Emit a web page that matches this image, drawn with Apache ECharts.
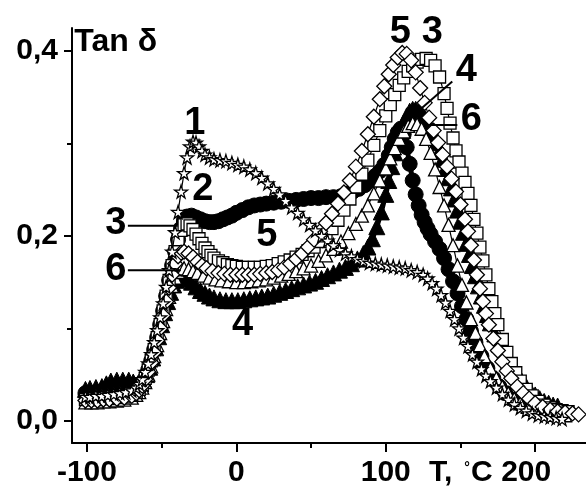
<!DOCTYPE html>
<html>
<head>
<meta charset="utf-8">
<script src="https://cdn.jsdelivr.net/npm/echarts@6/dist/echarts.min.js"></script>
<style>
html,body{margin:0;padding:0;background:#fff}
#chart{width:586px;height:489px}
</style>
</head>
<body>
<div id="chart"></div>
<script>
// Temperature sweeps of tan delta, [T in degC, tan delta]
const curve1 = [[-101,0.026],[-98,0.026],[-94,0.027],[-90,0.027],[-86,0.028],[-82,0.029],[-78,0.03],[-74,0.031],[-70,0.033],[-67,0.036],[-65,0.04],[-63,0.045],[-61,0.053],[-59,0.062],[-57,0.072],[-55,0.085],[-53,0.098],[-51,0.112],[-49,0.127],[-47,0.145],[-45,0.163],[-43,0.183],[-41,0.204],[-39,0.226],[-37,0.248],[-35,0.268],[-33,0.285],[-31,0.297],[-29,0.302],[-27,0.301],[-25,0.297],[-23,0.292],[-21,0.288],[-18,0.285],[-15,0.283],[-11,0.282],[-7,0.281],[-3,0.279],[1,0.277],[5,0.275],[9,0.272],[13,0.268],[17,0.263],[21,0.257],[25,0.251],[29,0.245],[33,0.238],[37,0.231],[41,0.225],[45,0.218],[49,0.212],[53,0.206],[57,0.2],[61,0.195],[65,0.19],[69,0.185],[73,0.181],[77,0.178],[81,0.175],[85,0.173],[89,0.171],[93,0.17],[97,0.169],[101,0.168],[105,0.167],[109,0.166],[113,0.165],[117,0.163],[121,0.161],[125,0.158],[128,0.154],[131,0.149],[134,0.143],[137,0.136],[140,0.128],[143,0.119],[146,0.11],[149,0.1],[152,0.09],[155,0.081],[158,0.072],[161,0.064],[164,0.056],[167,0.049],[170,0.043],[174,0.036],[178,0.029],[182,0.023],[186,0.018],[190,0.014],[194,0.011],[198,0.008],[202,0.006],[206,0.005],[210,0.004],[214,0.003],[218,0.002]];

const curve2 = [[-101,0.03],[-97,0.03],[-93,0.03],[-89,0.031],[-85,0.032],[-80,0.033],[-75,0.034],[-70,0.034],[-67,0.035],[-65,0.036],[-63,0.04],[-61,0.046],[-59,0.055],[-57,0.065],[-55,0.077],[-53,0.09],[-51,0.104],[-49,0.119],[-47,0.135],[-45,0.152],[-43,0.168],[-41,0.183],[-39,0.196],[-37,0.208],[-35,0.217],[-33,0.221],[-30,0.222],[-27,0.22],[-24,0.218],[-21,0.216],[-18,0.215],[-15,0.215],[-12,0.216],[-9,0.218],[-6,0.22],[-3,0.222],[0,0.225],[4,0.228],[8,0.231],[12,0.233],[16,0.234],[20,0.235],[25,0.236],[30,0.237],[35,0.238],[40,0.239],[45,0.24],[50,0.241],[55,0.241],[60,0.242],[65,0.242],[70,0.243],[74,0.245],[78,0.248],[82,0.251],[86,0.255],[90,0.26],[93,0.265],[96,0.27],[99,0.277],[102,0.287],[104,0.296],[106,0.305],[108,0.312],[110,0.316],[112,0.31],[114,0.296],[116,0.278],[118,0.26],[120,0.245],[122,0.233],[124,0.223],[126,0.215],[128,0.208],[130,0.202],[133,0.194],[136,0.186],[139,0.176],[142,0.164],[145,0.151],[148,0.138],[151,0.124],[154,0.11],[157,0.097],[160,0.085],[164,0.07],[168,0.057],[172,0.046],[176,0.037],[180,0.03],[185,0.023],[190,0.018],[195,0.014],[200,0.011],[205,0.009],[210,0.008],[215,0.007]];

const curve3 = [[-101,0.023],[-97,0.023],[-93,0.023],[-89,0.024],[-85,0.024],[-80,0.025],[-75,0.026],[-70,0.028],[-67,0.031],[-65,0.034],[-63,0.039],[-61,0.046],[-59,0.055],[-57,0.065],[-55,0.077],[-53,0.09],[-51,0.104],[-49,0.119],[-47,0.135],[-45,0.152],[-43,0.168],[-41,0.183],[-39,0.196],[-37,0.206],[-35,0.212],[-33,0.213],[-31,0.211],[-29,0.207],[-27,0.202],[-25,0.197],[-23,0.192],[-21,0.187],[-19,0.183],[-17,0.179],[-15,0.176],[-12,0.173],[-9,0.171],[-6,0.169],[-3,0.168],[0,0.167],[4,0.166],[8,0.166],[12,0.166],[16,0.166],[20,0.167],[24,0.168],[28,0.17],[32,0.172],[36,0.174],[40,0.177],[44,0.18],[48,0.184],[52,0.188],[56,0.194],[60,0.2],[64,0.208],[68,0.217],[72,0.228],[76,0.24],[80,0.253],[84,0.267],[88,0.282],[92,0.298],[96,0.314],[100,0.33],[103,0.342],[106,0.353],[109,0.363],[112,0.371],[115,0.378],[118,0.384],[121,0.388],[124,0.391],[127,0.392],[130,0.39],[133,0.384],[136,0.372],[139,0.354],[141,0.338],[143,0.322],[145,0.306],[147,0.292],[149,0.28],[151,0.268],[153,0.258],[155,0.246],[157,0.233],[159,0.218],[161,0.203],[163,0.188],[165,0.173],[167,0.158],[169,0.143],[171,0.129],[173,0.116],[175,0.104],[178,0.088],[181,0.074],[184,0.062],[187,0.052],[190,0.043],[194,0.034],[198,0.027],[202,0.021],[206,0.017],[210,0.014],[214,0.012],[218,0.011],[222,0.01]];

const curve4 = [[-101,0.034],[-98,0.035],[-94,0.036],[-90,0.037],[-87,0.04],[-84,0.043],[-80,0.044],[-76,0.044],[-72,0.044],[-69,0.042],[-66,0.04],[-64,0.04],[-62,0.044],[-60,0.05],[-58,0.058],[-56,0.068],[-54,0.079],[-52,0.091],[-50,0.104],[-48,0.117],[-46,0.129],[-44,0.139],[-42,0.147],[-40,0.152],[-38,0.155],[-36,0.156],[-33,0.154],[-30,0.15],[-27,0.145],[-24,0.141],[-21,0.138],[-18,0.135],[-15,0.133],[-11,0.131],[-7,0.13],[-3,0.13],[1,0.13],[5,0.131],[9,0.132],[13,0.133],[17,0.134],[21,0.135],[25,0.137],[29,0.139],[33,0.141],[37,0.143],[41,0.145],[45,0.147],[49,0.149],[53,0.151],[57,0.154],[61,0.157],[65,0.16],[69,0.163],[73,0.166],[77,0.17],[81,0.175],[85,0.181],[88,0.188],[91,0.197],[94,0.21],[97,0.226],[100,0.245],[102,0.26],[104,0.275],[106,0.29],[108,0.303],[110,0.314],[112,0.323],[114,0.33],[116,0.335],[118,0.337],[120,0.337],[122,0.335],[124,0.332],[126,0.328],[128,0.323],[130,0.317],[132,0.31],[134,0.301],[136,0.292],[138,0.283],[140,0.273],[142,0.263],[144,0.252],[146,0.24],[148,0.228],[150,0.216],[152,0.204],[154,0.192],[156,0.18],[158,0.168],[160,0.157],[162,0.146],[164,0.135],[166,0.125],[168,0.115],[170,0.106],[173,0.094],[176,0.083],[179,0.073],[182,0.064],[185,0.056],[188,0.049],[191,0.043],[194,0.037],[197,0.032],[200,0.028],[203,0.024],[206,0.021],[209,0.019],[212,0.017],[215,0.016]];

const curve5 = [[-101,0.022],[-97,0.022],[-93,0.022],[-89,0.023],[-85,0.023],[-80,0.024],[-75,0.025],[-70,0.027],[-67,0.03],[-65,0.033],[-63,0.038],[-61,0.045],[-59,0.053],[-57,0.063],[-55,0.074],[-53,0.087],[-51,0.1],[-49,0.114],[-47,0.129],[-45,0.144],[-43,0.158],[-41,0.17],[-39,0.178],[-37,0.182],[-35,0.183],[-32,0.181],[-29,0.177],[-26,0.172],[-23,0.168],[-20,0.165],[-16,0.162],[-12,0.16],[-8,0.159],[-4,0.158],[0,0.158],[4,0.158],[8,0.158],[12,0.158],[16,0.159],[20,0.16],[24,0.161],[28,0.163],[32,0.166],[36,0.17],[40,0.175],[44,0.181],[48,0.188],[52,0.196],[56,0.205],[60,0.214],[64,0.224],[68,0.235],[72,0.247],[76,0.26],[80,0.275],[84,0.292],[88,0.31],[92,0.329],[96,0.348],[99,0.362],[102,0.375],[105,0.385],[108,0.393],[111,0.398],[114,0.397],[117,0.39],[120,0.377],[123,0.36],[126,0.344],[129,0.328],[132,0.314],[135,0.301],[138,0.288],[141,0.275],[144,0.262],[147,0.248],[150,0.234],[153,0.218],[155,0.205],[157,0.19],[159,0.174],[161,0.158],[163,0.143],[165,0.129],[167,0.116],[169,0.104],[172,0.089],[175,0.076],[178,0.064],[181,0.054],[184,0.046],[188,0.037],[192,0.03],[196,0.024],[200,0.019],[205,0.015],[210,0.012],[215,0.01],[220,0.009],[225,0.008],[229,0.007]];

const curve6 = [[-101,0.02],[-97,0.02],[-93,0.02],[-89,0.021],[-85,0.021],[-80,0.022],[-75,0.023],[-70,0.025],[-67,0.028],[-65,0.031],[-63,0.036],[-61,0.042],[-59,0.05],[-57,0.059],[-55,0.07],[-53,0.082],[-51,0.095],[-49,0.108],[-47,0.121],[-45,0.134],[-43,0.146],[-41,0.155],[-39,0.161],[-37,0.164],[-35,0.165],[-32,0.164],[-29,0.162],[-26,0.16],[-22,0.157],[-18,0.155],[-14,0.153],[-10,0.152],[-5,0.151],[0,0.15],[5,0.15],[10,0.151],[15,0.152],[20,0.153],[25,0.155],[30,0.157],[35,0.159],[40,0.162],[45,0.165],[50,0.168],[55,0.173],[60,0.179],[65,0.186],[70,0.194],[75,0.203],[80,0.213],[84,0.222],[88,0.233],[92,0.246],[96,0.26],[100,0.273],[103,0.284],[106,0.295],[109,0.305],[112,0.313],[115,0.319],[118,0.322],[121,0.321],[124,0.316],[127,0.305],[130,0.29],[133,0.272],[136,0.253],[139,0.233],[142,0.212],[145,0.19],[148,0.168],[151,0.147],[154,0.128],[157,0.11],[160,0.095],[163,0.082],[166,0.07],[170,0.057],[174,0.046],[178,0.037],[182,0.03],[186,0.024],[190,0.019],[195,0.015],[200,0.012],[205,0.01],[210,0.008],[215,0.007],[220,0.006]];

// Axis ticks and labels
const tempMajor = [-100, 0, 100, 200];
const tempMinor = [-50, 50, 150];
const tanMajor = [0, 0.2, 0.4];
const tanMinor = [0.1, 0.3];

// Curve numbers in data coordinates: [text, T, tan delta]
const curveNumbers = [
  ['1', -27.8, 0.322], ['2', -22.5, 0.25], ['3', -80.6, 0.214], ['6', -80.6, 0.164],
  ['5', 20.3, 0.201], ['4', 4.2, 0.104], ['5', 109.8, 0.42], ['3', 131.2, 0.42],
  ['4', 153.9, 0.379], ['6', 157.2, 0.326]
];
// Leader lines: [T1, v1, T2, v2]
const leaders = [
  [-72.6, 0.211, -39.2, 0.211],
  [-72.6, 0.163, -37.2, 0.163],
  [144.5, 0.367, 123.2, 0.337],
  [147.9, 0.32, 125.2, 0.32]
];

const FONT = '"Liberation Sans", Arial, sans-serif';
const STAR = 'path://M50,0 L61,35 L98,35 L68,57 L79,91 L50,70 L21,91 L32,57 L2,35 L39,35 Z';

function curveSeries(name, data, symbol, filled, size, z) {
  return {
    name, type: 'line', data, z,
    symbol, symbolSize: size, showSymbol: true, showAllSymbol: true,
    animation: false, silent: true,
    lineStyle: { color: '#000', width: filled ? 5 : 1.2, cap: 'round', join: 'round' },
    itemStyle: { color: filled ? '#000' : '#fff', borderColor: '#000', borderWidth: filled ? 1 : 1.3 }
  };
}

const range = { xMin: -110, xMax: 234, yMin: -0.024, yMax: 0.425 };
const axisLineStyle = { lineStyle: { color: '#000', width: 2 } };

const chart = echarts.init(document.getElementById('chart'), null, { renderer: 'canvas' });
chart.setOption({
  backgroundColor: '#fff',
  animation: false,
  grid: { left: 72, top: 28, right: 0, bottom: 46, containLabel: false },
  xAxis: [{
    type: 'value', min: range.xMin, max: range.xMax, position: 'bottom',
    axisLine: { show: true, onZero: false, ...axisLineStyle },
    axisTick: { show: true, customValues: tempMajor, length: 9, lineStyle: { color: '#000', width: 2 } },
    axisLabel: {
      customValues: tempMajor, margin: 15, color: '#000', fontSize: 30, fontWeight: 'bold', fontFamily: FONT,
      formatter: v => v === 200 ? '{s|200}' : String(v),
      rich: { s: { fontSize: 30, fontWeight: 'bold', fontFamily: FONT, color: '#000', padding: [0, 18, 0, 0] } }
    },
    splitLine: { show: false }
  }, {
    type: 'value', min: range.xMin, max: range.xMax, position: 'bottom',
    axisLine: { show: false, onZero: false },
    axisTick: { show: true, customValues: tempMinor, length: 5, lineStyle: { color: '#000', width: 2 } },
    axisLabel: { show: false }, splitLine: { show: false }
  }],
  yAxis: [{
    type: 'value', min: range.yMin, max: range.yMax, position: 'left',
    axisLine: { show: true, onZero: false, ...axisLineStyle },
    axisTick: { show: true, customValues: tanMajor, length: 8, lineStyle: { color: '#000', width: 2 } },
    axisLabel: {
      customValues: tanMajor, margin: 14, color: '#000', fontSize: 30, fontWeight: 'bold', fontFamily: FONT,
      formatter: v => v.toFixed(1).replace('.', ',')
    },
    splitLine: { show: false }
  }, {
    type: 'value', min: range.yMin, max: range.yMax, position: 'left',
    axisLine: { show: false, onZero: false },
    axisTick: { show: true, customValues: tanMinor, length: 5, lineStyle: { color: '#000', width: 2 } },
    axisLabel: { show: false }, splitLine: { show: false }
  }],
  series: [
    curveSeries('2', curve2, 'circle', true, 15, 2),
    curveSeries('4', curve4, 'triangle', true, 16, 3),
    curveSeries('6', curve6, 'triangle', false, 13, 4),
    curveSeries('3', curve3, 'rect', false, 12, 5),
    curveSeries('5', curve5, 'diamond', false, 15, 6),
    curveSeries('1', curve1, STAR, false, 13, 7)
  ]
});

// Text annotations positioned through the axis scales
function px(t, v) { return chart.convertToPixel({ xAxisIndex: 0, yAxisIndex: 0 }, [t, v]); }
const graphics = [];
curveNumbers.forEach(([txt, t, v]) => {
  const p = px(t, v);
  graphics.push({
    type: 'text', x: p[0], y: p[1], z: 100,
    style: { text: txt, fill: '#000', font: 'bold 38px ' + FONT, align: 'center', verticalAlign: 'middle' }
  });
});
leaders.forEach(([t1, v1, t2, v2]) => {
  const a = px(t1, v1), b = px(t2, v2);
  graphics.push({
    type: 'line', z: 100,
    shape: { x1: a[0], y1: a[1], x2: b[0], y2: b[1] },
    style: { stroke: '#000', lineWidth: 2 }
  });
});
// Axis titles
const tanPos = px(-108.5, 0.41);
graphics.push({
  type: 'text', x: tanPos[0], y: tanPos[1], z: 100,
  style: { text: 'Tan δ', fill: '#000', font: 'bold 32px ' + FONT, align: 'left', verticalAlign: 'middle' }
});
const tX = chart.convertToPixel({ xAxisIndex: 0 }, 129);
graphics.push({
  type: 'text', x: tX, y: 473, z: 100,
  style: { text: 'T,', fill: '#000', font: 'bold 30px ' + FONT, align: 'left', verticalAlign: 'middle' }
});
graphics.push({
  type: 'text', x: tX + 38, y: 468, z: 100,
  style: { text: '°', fill: '#000', font: 'bold 14px ' + FONT, align: 'center', verticalAlign: 'middle' }
});
graphics.push({
  type: 'text', x: tX + 42, y: 473, z: 100,
  style: { text: 'C', fill: '#000', font: 'bold 30px ' + FONT, align: 'left', verticalAlign: 'middle' }
});
chart.setOption({ graphic: graphics });
</script>
</body>
</html>
